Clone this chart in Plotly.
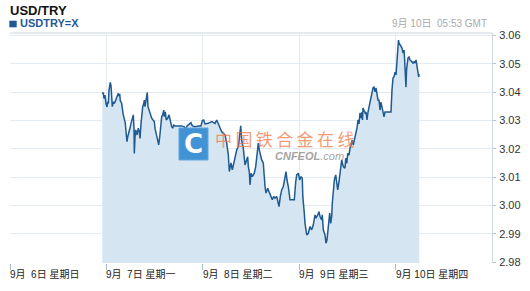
import pandas as pd
import plotly.graph_objects as go

# ---- data (hours since 2015-09-06 00:00 GMT, USD/TRY rate) ----
hours = [22.98, 23.23, 23.40, 23.65, 23.90, 24.15, 24.33, 24.48, 24.65, 24.82,
         24.97, 25.15, 25.32, 25.47, 25.72, 25.97, 26.32, 26.64, 26.96, 27.14,
         27.31, 27.46, 27.81, 28.13, 28.46, 28.71, 28.96, 29.13, 29.30, 29.45,
         29.70, 29.95, 30.13, 30.45, 30.70, 30.87, 30.95, 31.12, 31.30, 31.62,
         31.94, 32.19, 32.37, 32.62, 32.79, 33.04, 33.29, 33.44, 33.61, 33.79,
         34.03, 34.18, 34.36, 34.61, 34.86, 35.28, 35.61, 35.93, 36.10, 36.42,
         36.77, 37.02, 37.27, 37.52, 37.77, 38.02, 38.27, 38.42, 38.66, 38.91,
         39.26, 39.59, 39.83, 40.26, 40.51, 40.76, 41.08, 42.75, 43.40, 43.74,
         44.07, 44.81, 45.06, 45.39, 46.06, 46.88, 47.55, 47.88, 48.22, 48.55,
         49.37, 50.22, 51.04, 51.46, 51.86, 52.28, 52.71, 53.10, 53.53, 53.95,
         54.35, 54.60, 55.02, 55.35, 55.60, 55.84, 56.44, 56.84, 57.26, 57.44,
         57.69, 58.08, 58.51, 58.93, 59.18, 59.33, 59.58, 59.75, 60.00, 60.32,
         60.82, 61.17, 61.42, 61.67, 61.82, 62.07, 62.41, 62.66, 63.06, 63.31,
         63.49, 63.73, 64.16, 64.48, 64.98, 65.30, 65.65, 65.97, 66.40, 66.65,
         66.97, 67.30, 67.64, 68.04, 68.46, 68.71, 68.96, 69.29, 69.71, 70.78,
         71.13, 71.38, 71.78, 72.12, 72.45, 72.77, 72.90, 73.02, 73.27, 73.45,
         73.87, 74.27, 74.69, 75.11, 75.51, 75.93, 76.18, 76.61, 76.93, 77.18,
         77.60, 77.75, 78.00, 78.42, 78.67, 78.92, 79.24, 79.42, 79.59, 79.84,
         80.09, 80.24, 80.49, 80.74, 81.09, 81.34, 81.59, 81.91, 82.16, 82.58,
         82.98, 83.40, 83.58, 83.83, 84.08, 84.40, 84.65, 84.90, 85.22, 85.47,
         85.89, 86.14, 86.39, 86.64, 86.89, 87.14, 87.39, 87.63, 87.76, 87.88,
         88.38, 88.63, 88.88, 89.13, 89.38, 89.63, 90.12, 90.37, 90.62, 90.87,
         91.12, 91.37, 91.62, 91.87, 92.12, 92.36, 92.61, 92.86, 93.11, 93.36,
         94.85, 95.10, 95.35, 95.60, 95.85, 96.10, 96.35, 96.60, 96.72, 96.85,
         97.09, 97.59, 97.84, 98.09, 98.22, 98.34, 98.59, 98.72, 98.84, 99.09,
         99.34, 99.58, 100.08, 100.33, 100.58, 100.83, 101.08, 101.33, 101.58, 101.75,
         101.88]
rates = [3.0394, 3.0399, 3.0378, 3.0390, 3.0360, 3.0348, 3.0366, 3.0360, 3.0408, 3.0431,
         3.0435, 3.0422, 3.0390, 3.0349, 3.0366, 3.0360, 3.0372, 3.0384, 3.0396, 3.0386,
         3.0394, 3.0370, 3.0360, 3.0325, 3.0308, 3.0290, 3.0249, 3.0225, 3.0242, 3.0249,
         3.0260, 3.0278, 3.0290, 3.0314, 3.0320, 3.0273, 3.0184, 3.0242, 3.0267, 3.0249,
         3.0273, 3.0260, 3.0237, 3.0290, 3.0325, 3.0349, 3.0360, 3.0372, 3.0349, 3.0366,
         3.0396, 3.0399, 3.0349, 3.0337, 3.0325, 3.0308, 3.0302, 3.0296, 3.0273, 3.0255,
         3.0238, 3.0214, 3.0242, 3.0284, 3.0314, 3.0320, 3.0337, 3.0314, 3.0331, 3.0302,
         3.0308, 3.0320, 3.0302, 3.0278, 3.0273, 3.0284, 3.0281, 3.0281, 3.0278, 3.0267,
         3.0281, 3.0290, 3.0292, 3.0281, 3.0278, 3.0281, 3.0281, 3.0300, 3.0302, 3.0288,
         3.0290, 3.0296, 3.0290, 3.0302, 3.0290, 3.0273, 3.0260, 3.0255, 3.0249, 3.0220,
         3.0179, 3.0120, 3.0150, 3.0126, 3.0143, 3.0167, 3.0196, 3.0208, 3.0278, 3.0281,
         3.0231, 3.0202, 3.0143, 3.0161, 3.0172, 3.0137, 3.0120, 3.0073, 3.0114, 3.0102,
         3.0114, 3.0137, 3.0167, 3.0184, 3.0220, 3.0196, 3.0172, 3.0161, 3.0150, 3.0090,
         3.0067, 3.0044, 3.0061, 3.0049, 3.0032, 3.0020, 3.0032, 3.0026, 3.0032, 3.0020,
         2.9996, 3.0032, 3.0055, 3.0067, 3.0102, 3.0120, 3.0090, 3.0067, 3.0020, 3.0020,
         3.0084, 3.0108, 3.0114, 3.0090, 3.0102, 3.0096, 3.0032, 2.9996, 2.9973, 2.9937,
         2.9896, 2.9902, 2.9926, 2.9914, 2.9932, 2.9967, 2.9955, 2.9967, 2.9978, 2.9961,
         2.9949, 2.9967, 2.9914, 2.9896, 2.9867, 2.9879, 2.9926, 2.9949, 2.9973, 2.9937,
         2.9961, 3.0008, 3.0044, 3.0090, 3.0108, 3.0079, 3.0055, 3.0084, 3.0114, 3.0161,
         3.0137, 3.0132, 3.0167, 3.0149, 3.0184, 3.0178, 3.0202, 3.0220, 3.0231, 3.0214,
         3.0237, 3.0255, 3.0274, 3.0302, 3.0288, 3.0327, 3.0309, 3.0330, 3.0302, 3.0344,
         3.0327, 3.0330, 3.0302, 3.0330, 3.0348, 3.0365, 3.0397, 3.0415, 3.0418, 3.0401,
         3.0415, 3.0390, 3.0372, 3.0372, 3.0337, 3.0365, 3.0348, 3.0337, 3.0313, 3.0330,
         3.0330, 3.0408, 3.0450, 3.0454, 3.0471, 3.0461, 3.0503, 3.0574, 3.0584, 3.0574,
         3.0567, 3.0556, 3.0538, 3.0549, 3.0521, 3.0478, 3.0418, 3.0478, 3.0503, 3.0521,
         3.0524, 3.0514, 3.0507, 3.0503, 3.0507, 3.0503, 3.0514, 3.0489, 3.0471, 3.0454,
         3.0464]

day_dates = ["2015-09-06", "2015-09-07", "2015-09-08", "2015-09-09", "2015-09-10"]
day_labels = ["9月\u00a0\u00a06日\u00a0星期日", "9月\u00a0\u00a07日\u00a0星期一",
              "9月\u00a0\u00a08日\u00a0星期二", "9月\u00a0\u00a09日\u00a0星期三",
              "9月\u00a010日\u00a0星期四"]
y_ticks = [2.98, 2.99, 3.00, 3.01, 3.02, 3.03, 3.04, 3.05, 3.06]

base = pd.Timestamp("2015-09-06 00:00")
times = [base + pd.Timedelta(hours=h) for h in hours]

LINE = "#1f5a92"
FILL = "#d5e5f1"
GRID = "#e3eaf1"
FONT = "Liberation Sans, Arial, Noto Sans CJK SC, sans-serif"

fig = go.Figure()
fig.add_trace(go.Scatter(
    x=times, y=rates, mode="lines",
    line=dict(color=LINE, width=1.5),
    fill="tozeroy", fillcolor=FILL, hoverinfo="skip", showlegend=False))

fig.update_layout(
    width=530, height=291,
    margin=dict(l=10, r=38, t=33, b=28),
    paper_bgcolor="white", plot_bgcolor="white",
    font=dict(family=FONT, size=10, color="#333"),
    xaxis=dict(
        type="date",
        range=["2015-09-06 00:00", "2015-09-11 00:00"],
        tickvals=day_dates, ticktext=[""] * len(day_dates),
        showgrid=True, gridcolor=GRID, gridwidth=1,
        ticks="outside", ticklen=6, tickcolor="#a9bccf", tickwidth=1,
        showline=False, zeroline=False, fixedrange=True),
    yaxis=dict(
        side="right",
        range=[2.9797, 3.0609],
        tickvals=y_ticks, ticktext=[f"{v:.2f}" for v in y_ticks],
        showgrid=True, gridcolor=GRID, gridwidth=1,
        ticks="outside", ticklen=3, tickcolor="#b8c4d0",
        ticklabelstandoff=1,
        showline=True, linecolor="#cfd8e2", linewidth=1,
        zeroline=False,
        tickfont=dict(family=FONT, size=11, color="#333")),
)

# top border
fig.add_shape(type="line", xref="paper", yref="paper", x0=0, x1=1, y0=1, y1=1,
              line=dict(color="#dde3ea", width=1.5))

# x day labels (left-aligned at ticks)
for d, lab in zip(day_dates, day_labels):
    fig.add_annotation(x=d, y=-0.048, xref="x", yref="paper", text=lab,
                       showarrow=False, xanchor="left", yanchor="middle", xshift=-2,
                       font=dict(family=FONT, size=10, color="#222"))

# title and legend
fig.add_annotation(x=-0.004, y=1.098, xref="paper", yref="paper", text="<b>USD/TRY</b>",
                   showarrow=False, xanchor="left", yanchor="middle",
                   font=dict(family=FONT, size=13, color="#111"))
fig.add_shape(type="rect", xref="paper", yref="paper", x0=-0.0014, x1=0.0139,
              y0=1.0248, y1=1.0535, fillcolor="#1f5a96", line=dict(width=0))
fig.add_annotation(x=0.0165, y=1.0435, xref="paper", yref="paper", text="<b>USDTRY=X</b>",
                   showarrow=False, xanchor="left", yanchor="middle",
                   font=dict(family=FONT, size=11, color="#1f5a96"))
fig.add_annotation(x=0.993, y=1.0413, xref="paper", yref="paper",
                   text="9月 10日  05:53 GMT",
                   showarrow=False, xanchor="right", yanchor="middle",
                   font=dict(family=FONT, size=10, color="#aaaaaa"))

# watermark
fig.add_shape(type="rect", xref="paper", yref="paper", x0=0.3506, x1=0.4108,
              y0=0.4478, y1=0.5870, fillcolor="#3a8fd3", line=dict(color="#5fa3dc", width=1),
              opacity=0.95)
fig.add_annotation(x=0.3807, y=0.517, xref="paper", yref="paper", text="<b>C</b>",
                   showarrow=False, xanchor="center", yanchor="middle",
                   font=dict(family="DejaVu Sans", size=26, color="white"))
fig.add_annotation(x=0.5685, y=0.5413, xref="paper", yref="paper",
                   text="中\u2009国\u2009铁\u2009合\u2009金\u2009在\u2009线",
                   showarrow=False, xanchor="center", yanchor="middle",
                   font=dict(family="Noto Sans CJK SC", size=17, color="rgba(240,120,70,0.75)"))
fig.add_annotation(x=0.6224, y=0.4652, xref="paper", yref="paper",
                   text="<b><i>CNFEOL</i></b><i>.com</i>",
                   showarrow=False, xanchor="center", yanchor="middle",
                   font=dict(family=FONT, size=11, color="rgba(150,150,150,0.9)"))

fig.write_html("out.html")
